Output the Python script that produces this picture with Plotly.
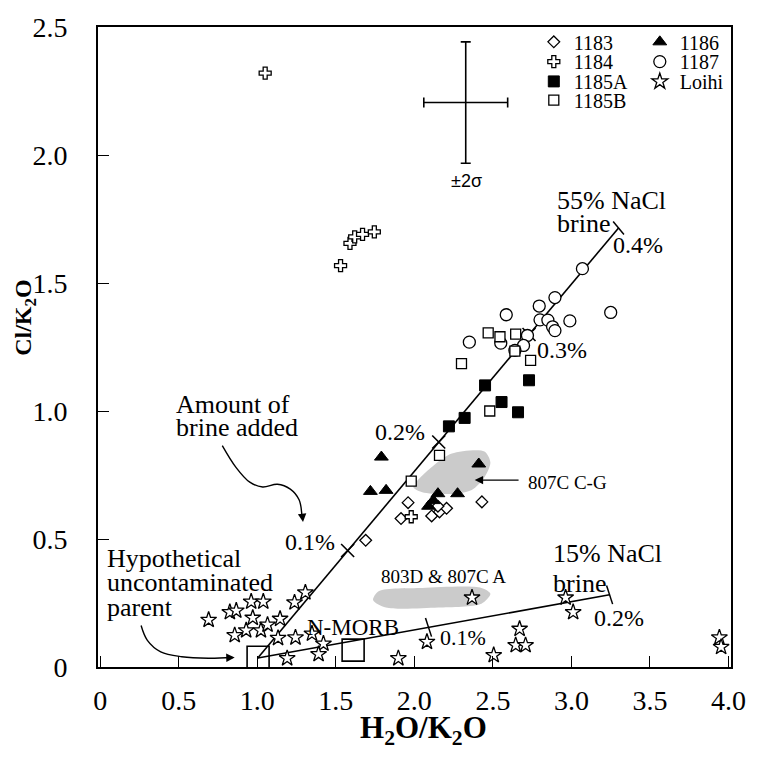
import plotly.graph_objects as go

# ---------------- data ----------------
x_ticks = [0, 0.5, 1.0, 1.5, 2.0, 2.5, 3.0, 3.5, 4.0]
x_ticktext = ["0", "0.5", "1.0", "1.5", "2.0", "2.5", "3.0", "3.5", "4.0"]
y_ticks = [0, 0.5, 1.0, 1.5, 2.0, 2.5]
y_ticktext = ["0", "0.5", "1.0", "1.5", "2.0", "2.5"]

s1183_x = [1.69, 1.96, 1.915, 2.43, 2.11, 2.16, 2.205, 2.15]
s1183_y = [0.495, 0.642, 0.58, 0.645, 0.59, 0.606, 0.62, 0.628]

s1184_x = [1.05, 1.53, 1.59, 1.62, 1.67, 1.745, 1.98]
s1184_y = [2.32, 1.568, 1.655, 1.68, 1.69, 1.70, 0.587]

s1185A_x = [2.22, 2.32, 2.45, 2.555, 2.66, 2.73]
s1185A_y = [0.94, 0.973, 1.10, 1.035, 0.995, 1.12]

s1185B_x = [1.98, 2.16, 2.48, 2.30, 2.47, 2.545, 2.645, 2.64, 2.74]
s1185B_y = [0.726, 0.827, 1.0, 1.185, 1.305, 1.29, 1.30, 1.234, 1.198]

s1186_x = [1.72, 1.79, 1.82, 2.41, 2.275, 2.15, 2.12, 2.09]
s1186_y = [0.686, 0.82, 0.69, 0.793, 0.677, 0.677, 0.65, 0.628]

s1187_x = [3.07, 2.895, 2.795, 2.585, 3.25, 2.99, 2.80, 2.85, 2.88, 2.895,
           2.72, 2.55, 2.35, 2.695, 2.64]
s1187_y = [1.556, 1.443, 1.41, 1.376, 1.385, 1.352, 1.356, 1.355, 1.329, 1.314,
           1.295, 1.265, 1.269, 1.256, 1.237]

loihi_x = [0.69, 0.825, 0.866, 0.961, 1.038, 0.971, 0.856, 0.929, 1.023, 1.065,
           1.145, 1.237, 1.306, 1.132, 1.243, 1.348, 1.421, 1.39, 1.19, 1.898,
           2.08, 2.367, 2.505, 2.645, 2.67, 2.708, 2.963, 3.011, 3.942, 3.953]
loihi_y = [0.184, 0.214, 0.22, 0.255, 0.255, 0.192, 0.124, 0.143, 0.143, 0.165,
           0.188, 0.252, 0.291, 0.113, 0.115, 0.13, 0.091, 0.05, 0.034, 0.034,
           0.098, 0.271, 0.046, 0.085, 0.149, 0.085, 0.271, 0.214, 0.115, 0.078]

# end-members: hypothetical parent and N-MORB
endmember_x = [1.005, 1.61]
endmember_y = [0.038, 0.066]

# mixing lines
brine55_x = [1.003, 3.30]
brine55_y = [0.035, 1.715]
brine55_tick_x = [1.575, 2.155, 2.73]
brine55_tick_y = [0.455, 0.879, 1.299]
brine15_x = [1.003, 3.243]
brine15_y = [0.035, 0.282]
brine15_tick_x = [2.09, 3.243]
brine15_tick_y = [0.155, 0.282]

# analytical uncertainty cross (+-2 sigma)
err_x = [2.327]
err_y = [2.205]
err_dx = [0.267]
err_dy = [0.237]

# grey fields (807C C-G and 803D & 807C A)
field1_x = [1.993, 2.132, 2.239, 2.446, 2.484, 2.446, 2.365, 2.239, 2.05, 1.993]
field1_y = [0.703, 0.792, 0.834, 0.842, 0.799, 0.741, 0.691, 0.676, 0.683, 0.703]
field2_x = [1.737, 1.775, 2.05, 2.427, 2.484, 2.427, 2.151, 1.819, 1.737]
field2_y = [0.262, 0.297, 0.309, 0.309, 0.286, 0.247, 0.232, 0.232, 0.262]

# curved pointer lines
arrow1_x = [0.777, 0.864, 0.952, 1.034, 1.128, 1.21, 1.266, 1.285]
arrow1_y = [0.865, 0.780, 0.722, 0.703, 0.714, 0.695, 0.653, 0.579]
arrow2_x = [0.26, 0.30, 0.385, 0.519, 0.689, 0.84]
arrow2_y = [0.162, 0.104, 0.059, 0.040, 0.034, 0.037]

SERIF = "Liberation Serif"
BLACK = "black"

fig = go.Figure()

# grey fields
for fx, fy in [(field1_x, field1_y), (field2_x, field2_y)]:
    fig.add_trace(go.Scatter(x=fx, y=fy, mode="lines", fill="toself",
                             line=dict(width=0, shape="spline", smoothing=0.8),
                             fillcolor="#cbcbcb", showlegend=False, hoverinfo="skip"))

# mixing lines
fig.add_trace(go.Scatter(x=brine55_x, y=brine55_y, mode="lines",
                         line=dict(color=BLACK, width=1.6), showlegend=False))
fig.add_trace(go.Scatter(x=brine15_x, y=brine15_y, mode="lines",
                         line=dict(color=BLACK, width=1.6), showlegend=False))
fig.add_trace(go.Scatter(x=brine55_tick_x, y=brine55_tick_y, mode="markers",
                         marker=dict(symbol="x-thin-open", size=13, color=BLACK,
                                     line=dict(color=BLACK, width=1.6)),
                         showlegend=False))
fig.add_trace(go.Scatter(x=[brine55_x[1]], y=[brine55_y[1]], mode="markers",
                         marker=dict(symbol="line-ns-open", size=12, angle=-40, color=BLACK,
                                     line=dict(color=BLACK, width=1.5)),
                         showlegend=False))
fig.add_trace(go.Scatter(x=brine15_tick_x, y=brine15_tick_y, mode="markers",
                         marker=dict(symbol="line-ns-open", size=14, angle=-18, color=BLACK,
                                     line=dict(color=BLACK, width=1.5)),
                         showlegend=False))

# curved pointers
for axx, ayy in [(arrow1_x, arrow1_y), (arrow2_x, arrow2_y)]:
    fig.add_trace(go.Scatter(x=axx, y=ayy, mode="lines",
                             line=dict(color=BLACK, width=1.4, shape="spline", smoothing=1.0),
                             showlegend=False, hoverinfo="skip"))

# end-member boxes
fig.add_trace(go.Scatter(x=endmember_x, y=endmember_y, mode="markers",
                         marker=dict(symbol="square-open", size=22, color=BLACK,
                                     line=dict(color=BLACK, width=1.6)),
                         showlegend=False))

# error cross
fig.add_trace(go.Scatter(x=err_x, y=err_y, mode="markers",
                         marker=dict(size=1, color="rgba(0,0,0,0)"),
                         error_x=dict(type="data", array=err_dx, color=BLACK, thickness=1.6, width=5),
                         error_y=dict(type="data", array=err_dy, color=BLACK, thickness=1.6, width=5),
                         showlegend=False))

# sample series
def series(name, xs, ys, symbol, size, filled, legend):
    if filled:
        mk = dict(symbol=symbol, size=size, color=BLACK, line=dict(color=BLACK, width=1))
    else:
        mk = dict(symbol=symbol, size=size, color="white", line=dict(color=BLACK, width=1.3))
    return go.Scatter(x=xs, y=ys, mode="markers", name=name, marker=mk, legend=legend)

# order: row-wise legend layout (col 1, col 2)
fig.add_trace(series("1183", s1183_x, s1183_y, "diamond", 9, False, "legend"))
fig.add_trace(series("1186", s1186_x, s1186_y, "triangle-up", 12, True, "legend"))
fig.add_trace(series("1184", s1184_x, s1184_y, "cross", 10, False, "legend2"))
fig.add_trace(series("1187", s1187_x, s1187_y, "circle", 12, False, "legend2"))
fig.add_trace(series("1185A", s1185A_x, s1185A_y, "square", 11, True, "legend3"))
fig.add_trace(series("Loihi", loihi_x, loihi_y, "star", 12, False, "legend3"))
fig.add_trace(series("1185B", s1185B_x, s1185B_y, "square", 10, False, "legend4"))

# ---------------- layout ----------------
L, R, T, B = 98, 18, 20, 91
W = H = 758
PW, PH = W - L - R, H - T - B

def paper_x(px):
    return (px - L) / PW

def paper_y(py):
    return (H - B - py) / PH

axis_common = dict(showgrid=False, zeroline=False, showline=True, linecolor=BLACK,
                   linewidth=1.6, mirror=True, ticks="inside", ticklen=11,
                   tickwidth=1.3, tickcolor=BLACK,
                   tickfont=dict(family=SERIF, size=28, color=BLACK))

legend_common = dict(orientation="h", xanchor="left", yanchor="middle",
                     font=dict(family=SERIF, size=20, color=BLACK),
                     bgcolor="rgba(0,0,0,0)", borderwidth=0,
                     entrywidth=61, entrywidthmode="pixels", itemwidth=30,
                     traceorder="normal")
rows_py = [35, 55, 75, 94]
legends = {}
for i, key in enumerate(["legend", "legend2", "legend3", "legend4"]):
    legends[key] = dict(legend_common, x=paper_x(540), y=paper_y(rows_py[i]))

fig.update_layout(
    width=W, height=H, margin=dict(l=L, r=R, t=T, b=B),
    plot_bgcolor="white", paper_bgcolor="white",
    xaxis=dict(axis_common, range=[-0.0144, 4.016], tickvals=x_ticks,
               ticktext=x_ticktext, ticklabelstandoff=8),
    yaxis=dict(axis_common, range=[0, 2.5], tickvals=y_ticks,
               ticktext=y_ticktext, ticklabelstandoff=23),
    **legends,
)

ann = []
def text(t, x, y, size=26, xanchor="center", font=SERIF):
    ann.append(dict(text=t, x=x, y=y, xref="x", yref="y", showarrow=False,
                    xanchor=xanchor, yanchor="middle",
                    font=dict(family=font, size=size, color=BLACK)))

text("Amount of", 0.469, 1.025, xanchor="left")
text("brine added", 0.469, 0.936, xanchor="left")
text("Hypothetical", 0.030, 0.424, xanchor="left")
text("uncontaminated", 0.030, 0.330, xanchor="left")
text("parent", 0.030, 0.232, xanchor="left")
text("N-MORB", 1.61, 0.154, size=23)
text("0.1%", 1.335, 0.49, size=24)
text("0.2%", 1.906, 0.919, size=24)
text("0.3%", 2.942, 1.239, size=24)
text("0.4%", 3.426, 1.649, size=24)
text("55% NaCl", 2.898, 1.824, xanchor="left")
text("brine", 2.898, 1.732, xanchor="left")
text("15% NaCl", 2.867, 0.442, xanchor="left")
text("brine", 2.867, 0.328, xanchor="left")
text("0.2%", 3.306, 0.193, size=24)
text("0.1%", 2.308, 0.116, size=22)
text("807C C-G", 2.71, 0.722, size=19, xanchor="left")
text("803D & 807C A", 2.183, 0.355, size=19)
text("±2σ", 2.333, 1.90, size=18, font="Liberation Sans")

# arrow heads
for hx, hy, tx, ty in [(2.384, 0.730, 2.673, 0.730),
                       (1.291, 0.566, 1.285, 0.60),
                       (0.856, 0.037, 0.80, 0.036)]:
    ann.append(dict(x=hx, y=hy, ax=tx, ay=ty, xref="x", yref="y", axref="x", ayref="y",
                    showarrow=True, arrowhead=2, arrowsize=1.3, arrowwidth=1.3,
                    arrowcolor=BLACK, text="", standoff=0, startstandoff=0))

# axis titles
ann.append(dict(text="<b>H<sub>2</sub>O/K<sub>2</sub>O</b>", x=paper_x(428), y=paper_y(731),
                xref="paper", yref="paper", showarrow=False, xanchor="center", yanchor="middle",
                font=dict(family=SERIF, size=31, color=BLACK)))
ann.append(dict(text="<b>Cl/K<sub>2</sub>O</b>", x=paper_x(24), y=paper_y(314),
                xref="paper", yref="paper", showarrow=False, xanchor="center", yanchor="middle",
                textangle=-90, font=dict(family=SERIF, size=24, color=BLACK)))

fig.update_layout(annotations=ann)
fig.write_html("out.html")
